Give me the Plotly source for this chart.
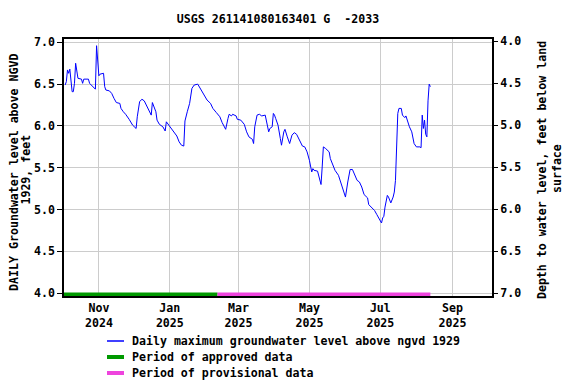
import plotly.graph_objects as go

# ---- data ----
dates = [
    "2024-10-03", "2024-10-04", "2024-10-05", "2024-10-06", "2024-10-07", "2024-10-08",
    "2024-10-09", "2024-10-10", "2024-10-11", "2024-10-12", "2024-10-13", "2024-10-14",
    "2024-10-17", "2024-10-18", "2024-10-19", "2024-10-23", "2024-10-24", "2024-10-28",
    "2024-10-29", "2024-10-30", "2024-10-31", "2024-11-01", "2024-11-02", "2024-11-04",
    "2024-11-05", "2024-11-06", "2024-11-07", "2024-11-10", "2024-11-12", "2024-11-14",
    "2024-11-16", "2024-11-19", "2024-11-20", "2024-11-22", "2024-11-24", "2024-11-27",
    "2024-11-29", "2024-11-30", "2024-12-03", "2024-12-04", "2024-12-06", "2024-12-08",
    "2024-12-10", "2024-12-13", "2024-12-15", "2024-12-16", "2024-12-17", "2024-12-18",
    "2024-12-20", "2024-12-21", "2024-12-23", "2024-12-26", "2024-12-28", "2024-12-29",
    "2024-12-30", "2025-01-02", "2025-01-05", "2025-01-07", "2025-01-09", "2025-01-11",
    "2025-01-13", "2025-01-14", "2025-01-16", "2025-01-18", "2025-01-20", "2025-01-22",
    "2025-01-25", "2025-01-27", "2025-01-30", "2025-02-02", "2025-02-05", "2025-02-07",
    "2025-02-10", "2025-02-13", "2025-02-15", "2025-02-18", "2025-02-20", "2025-02-21",
    "2025-02-23", "2025-02-24", "2025-02-27", "2025-02-28", "2025-03-03", "2025-03-06",
    "2025-03-08", "2025-03-10", "2025-03-13", "2025-03-14", "2025-03-15", "2025-03-17",
    "2025-03-19", "2025-03-21", "2025-03-24", "2025-03-25", "2025-03-27", "2025-03-28",
    "2025-03-30", "2025-03-31", "2025-04-01", "2025-04-02", "2025-04-04", "2025-04-06",
    "2025-04-07", "2025-04-09", "2025-04-10", "2025-04-12", "2025-04-14", "2025-04-16",
    "2025-04-18", "2025-04-20", "2025-04-23", "2025-04-25", "2025-04-27", "2025-04-29",
    "2025-05-01", "2025-05-03", "2025-05-04", "2025-05-05", "2025-05-08", "2025-05-10",
    "2025-05-11", "2025-05-12", "2025-05-13", "2025-05-15", "2025-05-18", "2025-05-19",
    "2025-05-21", "2025-05-23", "2025-05-26", "2025-05-28", "2025-05-30", "2025-06-01",
    "2025-06-03", "2025-06-05", "2025-06-07", "2025-06-09", "2025-06-11", "2025-06-13",
    "2025-06-15", "2025-06-17", "2025-06-20", "2025-06-21", "2025-06-24", "2025-06-26",
    "2025-06-28", "2025-06-30", "2025-07-02", "2025-07-03", "2025-07-04", "2025-07-05",
    "2025-07-07", "2025-07-08", "2025-07-10", "2025-07-12", "2025-07-13", "2025-07-14",
    "2025-07-15", "2025-07-16", "2025-07-17", "2025-07-19", "2025-07-20", "2025-07-22",
    "2025-07-23", "2025-07-24", "2025-07-26", "2025-07-28", "2025-07-30", "2025-08-01",
    "2025-08-04", "2025-08-05", "2025-08-06", "2025-08-07", "2025-08-08", "2025-08-09",
    "2025-08-10", "2025-08-11", "2025-08-12", "2025-08-13",
]
levels = [
    6.49, 6.53, 6.67, 6.63, 6.68, 6.51,
    6.41, 6.41, 6.51, 6.75, 6.65, 6.57,
    6.56, 6.51, 6.56, 6.56, 6.51, 6.46,
    6.44, 6.96, 6.80, 6.60, 6.62, 6.63,
    6.63, 6.47, 6.43, 6.42, 6.39, 6.33,
    6.28, 6.27, 6.21, 6.17, 6.14, 6.08,
    6.04, 6.01, 5.97, 6.11, 6.29, 6.32,
    6.30, 6.21, 6.15, 6.13, 6.28, 6.25,
    6.17, 6.07, 6.02, 5.99, 5.94, 6.05,
    6.03, 5.97, 5.92, 5.88, 5.81, 5.77,
    5.76, 6.06, 6.17, 6.27, 6.45, 6.49,
    6.50, 6.45, 6.39, 6.31, 6.27, 6.21,
    6.16, 6.11, 6.04, 5.96, 6.09, 6.14,
    6.12, 6.14, 6.12, 6.08, 6.07, 6.02,
    5.93, 5.87, 5.84, 5.79, 5.99, 6.13,
    6.14, 6.12, 6.13, 6.05, 5.93, 5.97,
    5.99, 6.15, 6.13, 6.09, 6.01, 5.85,
    5.77, 5.93, 5.96, 5.87, 5.79, 5.89,
    5.92, 5.90, 5.81, 5.76, 5.75, 5.69,
    5.59, 5.45, 5.49, 5.47, 5.46, 5.35,
    5.30, 5.51, 5.75, 5.73, 5.69, 5.61,
    5.55, 5.47, 5.41, 5.33, 5.23, 5.15,
    5.33, 5.48, 5.48, 5.41, 5.35, 5.33,
    5.27, 5.18, 5.14, 5.06, 5.02, 4.99,
    4.94, 4.88, 4.84, 4.90, 4.92, 5.03,
    5.17, 5.15, 5.08, 5.15, 5.21, 5.35,
    5.75, 6.15, 6.21, 6.21, 6.13, 6.10,
    6.12, 6.07, 5.99, 5.93, 5.79, 5.75,
    5.75, 5.74, 6.13, 5.97, 6.07, 5.90,
    5.87, 6.30, 6.50, 6.47,
]

approved_period = ["2024-10-02", "2025-02-11"]
provisional_period = ["2025-02-11", "2025-08-13"]
period_level = 3.985

tick_dates = ["2024-11-01", "2025-01-01", "2025-03-01", "2025-05-01", "2025-07-01", "2025-09-01"]
tick_labels = ["Nov<br>2024", "Jan<br>2025", "Mar<br>2025", "May<br>2025", "Jul<br>2025", "Sep<br>2025"]

left_ticks = [4.0, 4.5, 5.0, 5.5, 6.0, 6.5, 7.0]
right_ticks = [4.0, 4.5, 5.0, 5.5, 6.0, 6.5, 7.0]

legend_names = ["Daily maximum groundwater level above ngvd 1929",
                "Period of approved data",
                "Period of provisional data"]
colors = ["#0000ff", "#009900", "#ee44dd"]

title_text = "USGS 261141080163401 G  -2033"
left_title_lines = ["DAILY Groundwater level above NGVD", "1929, feet"]
right_title_lines = ["Depth to water level, feet below land", "surface"]

FONT = "DejaVu Sans Mono"
fs = 11.6

# page body has an 8px default margin: figure is sized to fit inside the window
W, H = 568, 376
ML, MT = 56, 31
PW, PH = 428, 257

fig = go.Figure()
fig.add_trace(go.Scatter(
    x=dates, y=levels, mode="lines",
    line=dict(color=colors[0], width=1),
    name=legend_names[0], showlegend=False,
))
fig.add_trace(go.Scatter(
    x=approved_period, y=[period_level] * 2, mode="lines",
    line=dict(color=colors[1], width=4),
    name=legend_names[1], showlegend=False,
))
fig.add_trace(go.Scatter(
    x=provisional_period, y=[period_level] * 2, mode="lines",
    line=dict(color=colors[2], width=4),
    name=legend_names[2], showlegend=False,
))
# invisible helper on right axis so it renders
fig.add_trace(go.Scatter(
    x=[dates[0]], y=[11.0 - levels[0]], yaxis="y2", mode="markers",
    marker=dict(opacity=0), showlegend=False, hoverinfo="skip",
))

# manual legend below the plot (paper coordinates)
leg_offsets = [45, 61, 77]   # pixels below plot bottom
leg_w = [1.5, 4, 4]
for name, c, off, w in zip(legend_names, colors, leg_offsets, leg_w):
    yy = -off / PH
    fig.add_shape(type="line", xref="paper", yref="paper",
                  x0=43 / PW, x1=60 / PW, y0=yy, y1=yy,
                  line=dict(color=c, width=w))
    fig.add_annotation(text="<b>" + name + "</b>", xref="paper", yref="paper",
                       x=66 / PW, y=yy, xanchor="left", yanchor="middle", showarrow=False,
                       font=dict(family=FONT, size=fs, color="black"))

# axis titles as rotated annotations, one per line
for txt, xpx, yp in zip(left_title_lines, [6.5, 18.5], [0.481, 0.490]):
    fig.add_annotation(text="<b>" + txt + "</b>", xref="paper", yref="paper",
                       x=(xpx - ML) / PW, y=yp, xanchor="center", yanchor="middle",
                       textangle=-90, showarrow=False,
                       font=dict(family=FONT, size=fs, color="black"))
for txt, xpx, yp in zip(right_title_lines, [534, 549], [0.490, 0.494]):
    fig.add_annotation(text="<b>" + txt + "</b>", xref="paper", yref="paper",
                       x=(xpx - ML) / PW, y=yp, xanchor="center", yanchor="middle",
                       textangle=-90, showarrow=False,
                       font=dict(family=FONT, size=fs, color="black"))

fig.update_layout(
    width=W, height=H,
    margin=dict(l=ML, r=W - ML - PW, t=MT, b=H - MT - PH, autoexpand=False),
    paper_bgcolor="white", plot_bgcolor="white",
    font=dict(family=FONT, size=fs, color="black"),
    title=dict(text="<b>" + title_text + "</b>", xref="paper", x=0.5, xanchor="center",
               yref="container", y=1 - 11 / H, yanchor="middle", font=dict(family=FONT, size=fs)),
    showlegend=False,
    xaxis=dict(
        type="date", automargin=False,
        range=["2024-10-02", "2025-10-05"],
        tickvals=tick_dates, ticktext=["<b>" + t.replace("<br>", "</b><br><b>") + "</b>" for t in tick_labels],
        showgrid=True, gridcolor="#cccccc", gridwidth=1,
        showline=True, linecolor="black", linewidth=1.5, mirror=True,
        ticks="", zeroline=False,
    ),
    yaxis=dict(
        range=[3.967, 7.04], automargin=False,
        tickvals=left_ticks, ticktext=["<b>%.1f</b>" % v for v in left_ticks],
        showgrid=True, gridcolor="#cccccc", gridwidth=1,
        showline=True, linecolor="black", linewidth=1.5, mirror=True,
        ticks="outside", ticklen=5, tickcolor="black",
        zeroline=False,
    ),
    yaxis2=dict(
        overlaying="y", side="right", automargin=False,
        range=[7.032, 3.973],
        tickvals=right_ticks, ticktext=["<b>%.1f</b>" % v for v in right_ticks],
        showgrid=False, zeroline=False,
        ticks="outside", ticklen=5, tickcolor="black",
    ),
)

fig.write_html("out.html")
